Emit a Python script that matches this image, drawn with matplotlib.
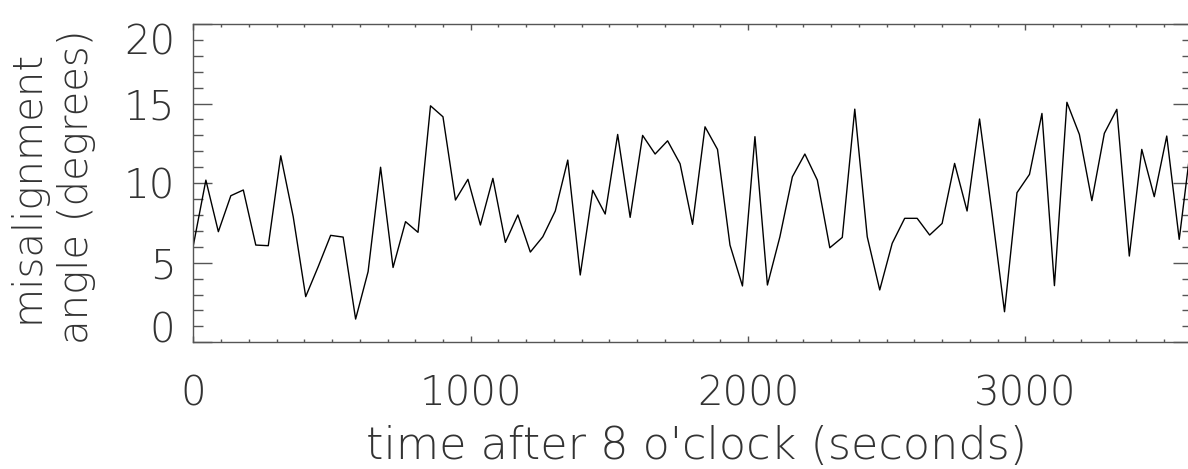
#!/usr/bin/env python3
"""Misalignment angle vs time, IDL-style line plot."""
import numpy as np
import matplotlib
matplotlib.use("Agg")
import matplotlib.pyplot as plt
from matplotlib.ticker import MultipleLocator

SAMPLE_STEP = 45  # seconds between samples
angles = [
    6.11, 10.19, 6.95, 9.21, 9.57, 6.11, 6.07, 11.72, 7.89, 2.87,
    4.75, 6.72, 6.61, 1.46, 4.44, 11.00, 4.70, 7.58, 6.91, 14.86,
    14.17, 8.94, 10.24, 7.37, 10.30, 6.28, 8.00, 5.67, 6.63, 8.25,
    11.45, 4.23, 9.55, 8.06, 13.06, 7.85, 13.00, 11.83, 12.66, 11.22,
    7.41, 13.54, 12.12, 6.11, 3.54, 12.92, 3.60, 6.63, 10.40, 11.83,
    10.19, 5.94, 6.59, 14.65, 6.63, 3.29, 6.22, 7.79, 7.79, 6.74,
    7.47, 11.24, 8.25, 14.03, 8.10, 1.92, 9.40, 10.55, 14.38, 3.56,
    15.08, 13.06, 8.90, 13.13, 14.64, 5.42, 12.12, 9.15, 12.96, 6.47,
    12.79,
]
times = np.arange(len(angles)) * SAMPLE_STEP

xticks = [0, 1000, 2000, 3000]
yticks = [0, 5, 10, 15, 20]
xlabel = "time after 8 o'clock (seconds)"
ylabel = "misalignment\nangle (degrees)"

plt.rcParams["font.family"] = ["DejaVu Sans"]
plt.rcParams["font.weight"] = "light"
plt.rcParams["axes.labelweight"] = "light"
TXT = "#333333"

fig = plt.figure(figsize=(11.88, 4.69), dpi=100)
ax = fig.add_axes([0.16279, 0.27015, 0.84032, 0.67868])
ax.plot(times, angles, color="black", lw=1.0)

ax.set_xlim(0, 3600)
ax.set_ylim(0, 20)
ax.set_xticks(xticks)
ax.set_xticklabels([str(t) for t in xticks])
ax.set_yticks(yticks)
ax.set_yticklabels([str(t) for t in yticks])
ax.xaxis.set_minor_locator(MultipleLocator(100))
ax.yaxis.set_minor_locator(MultipleLocator(1))

for s in ax.spines.values():
    s.set_color("#555555")
    s.set_linewidth(1.0)

ax.tick_params(axis="x", which="both", direction="in", top=True, bottom=True,
               color="#555555", width=1.0)
ax.tick_params(axis="x", which="major", length=4.4, pad=23, labelsize=29,
               labelcolor=TXT)
ax.tick_params(axis="x", which="minor", length=2.2)
ax.tick_params(axis="y", which="both", direction="in", left=True, right=True,
               color="#555555", width=1.0)
ax.tick_params(axis="y", which="major", length=13.7, pad=13, labelsize=29,
               labelcolor=TXT)
ax.tick_params(axis="y", which="minor", length=7.2)

ylabs = ax.get_yticklabels()
ylabs[0].set_va("baseline")
ylabs[-1].set_va("top")

ax.set_ylabel(ylabel, fontsize=29, fontweight="light", color=TXT,
              linespacing=1.35)
ax.yaxis.set_label_coords(-0.0975, 0.49)
fig.text(0.5867, 0.0213, xlabel, ha="center", va="baseline", fontsize=32,
         fontweight="light", color=TXT)

fig.savefig("out.png", dpi=100)
